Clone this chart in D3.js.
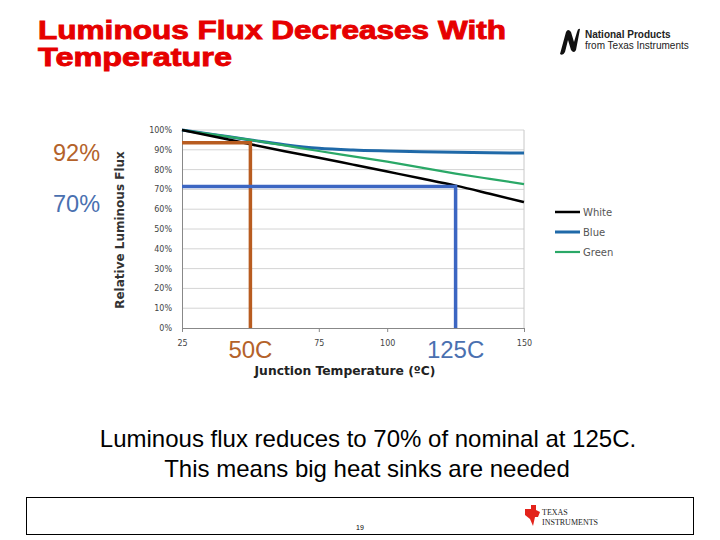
<!DOCTYPE html>
<html>
<head>
<meta charset="utf-8">
<script src="https://cdn.jsdelivr.net/npm/d3@7"></script>
<style>
  body { margin: 0; background: #fff; }
  svg { display: block; }
</style>
</head>
<body>
<script>
// chart data
const temps = [25, 37.5, 50, 62.5, 75, 87.5, 100, 112.5, 125, 137.5, 150];
const whiteFlux = [100, 96.5, 92.8, 89.3, 86, 82.5, 79, 75.5, 71.9, 67.8, 63.6];
const blueFlux = [100, 97.5, 95, 92.6, 90.8, 89.9, 89.4, 89, 88.7, 88.5, 88.4];
const greenFlux = [100, 97.5, 95, 92.2, 89.4, 86.7, 84, 81, 78, 75.3, 72.7];
const seriesNames = ["White", "Blue", "Green"];
const seriesColors = ["#000000", "#1f69a8", "#2aa867"];
const yTicks = [0, 10, 20, 30, 40, 50, 60, 70, 80, 90, 100];
const xTicks = [25, 75, 100, 150];
// highlighted reference points
const markTemps = [50, 125];
const markFlux = [93.5, 71.5];
const markLabels = ["92%", "70%"];
const markTempLabels = ["50C", "125C"];
const markColors = ["#b85c20", "#3c66c2"];
const markTextColors = ["#b4622a", "#4a70b0"];

const W = 720, H = 540;
const svg = d3.select("body").append("svg").attr("width", W).attr("height", H);

// plot area
const plot = {left: 182, right: 524, top: 130, bottom: 328};
const x = d3.scaleLinear().domain([25, 150]).range([plot.left, plot.right]);
const y = d3.scaleLinear().domain([0, 100]).range([plot.bottom, plot.top]);

// title (heavy face, stretched to the slide's width)
svg.append("text").attr("x", 38).attr("y", 39)
  .attr("font-family", "Liberation Sans, Arial, sans-serif").attr("font-weight", "bold")
  .attr("font-size", 26).attr("fill", "#e60000").attr("stroke", "#e60000").attr("stroke-width", 0.9)
  .attr("textLength", 468).attr("lengthAdjust", "spacingAndGlyphs")
  .text("Luminous Flux Decreases With");
svg.append("text").attr("x", 38).attr("y", 66)
  .attr("font-family", "Liberation Sans, Arial, sans-serif").attr("font-weight", "bold")
  .attr("font-size", 26).attr("fill", "#e60000").attr("stroke", "#e60000").attr("stroke-width", 0.9)
  .attr("textLength", 194).attr("lengthAdjust", "spacingAndGlyphs")
  .text("Temperature");

// National logo (rough)
const logo = svg.append("g").attr("transform", "translate(558,28)");
logo.append("path").attr("d", "M2,26 L8,4 Q10,0 13,4 L16,14 L19,4 Q20,0 22,1 L18,22 Q16,26 13,22 L10,12 L7,24 Q5,28 2,26 Z")
  .attr("fill", "#111");
logo.append("text").attr("x", 27).attr("y", 10).attr("font-family", "Liberation Sans, Arial")
  .attr("font-weight", "bold").attr("font-size", 10).attr("fill", "#222").text("National Products");
logo.append("text").attr("x", 27).attr("y", 21).attr("font-family", "Liberation Sans Narrow, Liberation Sans, Arial")
  .attr("font-size", 10).attr("fill", "#222").text("from Texas Instruments");

// grid
svg.append("g").selectAll("line").data(yTicks.slice(1)).join("line")
  .attr("x1", plot.left).attr("x2", plot.right)
  .attr("y1", d => y(d)).attr("y2", d => y(d))
  .attr("stroke", "#d4d4d4").attr("stroke-width", 1);
svg.append("line").attr("x1", plot.right).attr("x2", plot.right)
  .attr("y1", plot.top).attr("y2", plot.bottom).attr("stroke", "#c8c8c8");

// axes
const yAxis = svg.append("g").attr("transform", `translate(${plot.left},0)`)
  .call(d3.axisLeft(y).tickValues(yTicks).tickFormat(d => d + "%").tickSize(0).tickPadding(10));
yAxis.select(".domain").attr("stroke", "#888");
yAxis.selectAll("text").attr("font-family", "DejaVu Sans, Verdana").attr("font-size", 8).attr("fill", "#444");

const xAxis = svg.append("g").attr("transform", `translate(0,${plot.bottom})`)
  .call(d3.axisBottom(x).tickValues(xTicks).tickSize(4).tickPadding(8));
xAxis.select(".domain").attr("stroke", "#888");
xAxis.selectAll("line").attr("stroke", "#888");
xAxis.selectAll("text").attr("font-family", "DejaVu Sans, Verdana").attr("font-size", 8).attr("fill", "#444");

// axis titles
svg.append("text").attr("transform", `translate(124,${(plot.top + plot.bottom) / 2 + 1}) rotate(-90)`)
  .attr("text-anchor", "middle").attr("font-family", "DejaVu Sans, Verdana").attr("font-weight", "bold")
  .attr("font-size", 12).attr("fill", "#333").text("Relative Luminous Flux");
svg.append("text").attr("x", 345).attr("y", 375).attr("text-anchor", "middle")
  .attr("font-family", "DejaVu Sans, Verdana").attr("font-weight", "bold")
  .attr("font-size", 12.3).attr("fill", "#222").text("Junction Temperature (ºC)");

// series lines
const allSeries = [whiteFlux, blueFlux, greenFlux];
const line = d3.line().x((d, i) => x(temps[i])).y(d => y(d)).curve(d3.curveMonotoneX);
const widths = [2.5, 3, 2.2];
const drawOrder = [1, 2, 0];
drawOrder.forEach(k => {
  svg.append("path").datum(allSeries[k]).attr("d", line)
    .attr("fill", "none").attr("stroke", seriesColors[k]).attr("stroke-width", widths[k]);
});

// marker lines
markTemps.forEach((t, i) => {
  svg.append("path")
    .attr("d", `M${x(25)},${y(markFlux[i])} H${x(t)} V${y(0)}`)
    .attr("fill", "none").attr("stroke", markColors[i]).attr("stroke-width", 3.5);
  svg.append("text").attr("x", x(t)).attr("y", 358).attr("text-anchor", "middle")
    .attr("font-family", "Liberation Sans, Arial").attr("font-size", 24)
    .attr("fill", markTextColors[i]).text(markTempLabels[i]);
});
svg.append("text").attr("x", 53).attr("y", 161).attr("font-family", "Liberation Sans, Arial")
  .attr("font-size", 23.5).attr("fill", markTextColors[0]).text(markLabels[0]);
svg.append("text").attr("x", 53).attr("y", 212).attr("font-family", "Liberation Sans, Arial")
  .attr("font-size", 23.5).attr("fill", markTextColors[1]).text(markLabels[1]);

// legend
const legend = svg.append("g").attr("transform", "translate(555,212)");
seriesNames.forEach((n, i) => {
  legend.append("line").attr("x1", 0).attr("x2", 25).attr("y1", i * 20).attr("y2", i * 20)
    .attr("stroke", seriesColors[i]).attr("stroke-width", widths[i]);
  legend.append("text").attr("x", 28).attr("y", i * 20 + 3.5)
    .attr("font-family", "DejaVu Sans, Verdana").attr("font-size", 10).attr("fill", "#555").text(n);
});

// caption
svg.append("text").attr("x", 368).attr("y", 447).attr("text-anchor", "middle")
  .attr("font-family", "Liberation Sans, Arial").attr("font-size", 24).attr("fill", "#000")
  .text("Luminous flux reduces to 70% of nominal at 125C.");
svg.append("text").attr("x", 367).attr("y", 477).attr("text-anchor", "middle")
  .attr("font-family", "Liberation Sans, Arial").attr("font-size", 24).attr("fill", "#000")
  .text("This means big heat sinks are needed");

// footer
svg.append("rect").attr("x", 26.5).attr("y", 497.5).attr("width", 667).attr("height", 37)
  .attr("fill", "none").attr("stroke", "#000").attr("stroke-width", 1);
svg.append("text").attr("x", 360).attr("y", 530).attr("text-anchor", "middle")
  .attr("font-family", "Liberation Sans, Arial").attr("font-size", 7).text("19");
const ti = svg.append("g").attr("transform", "translate(522,505)");
ti.append("path").attr("d", "M3,4 L9,4 L9,0 L14,0 L14,5 L18,7 L16,12 L13,12 L11,21 L8,14 L3,10 Z")
  .attr("fill", "#e3231b");
ti.append("text").attr("x", 20).attr("y", 10).attr("font-family", "Liberation Serif, serif")
  .attr("font-size", 8).attr("fill", "#222").text("TEXAS");
ti.append("text").attr("x", 20).attr("y", 20).attr("font-family", "Liberation Serif, serif")
  .attr("font-size", 8).attr("fill", "#222").text("INSTRUMENTS");
</script>
</body>
</html>
